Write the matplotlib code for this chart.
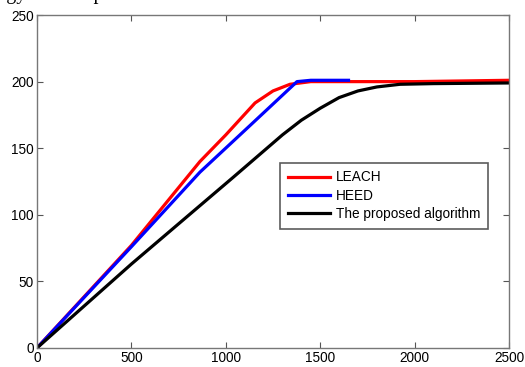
import numpy as np
import matplotlib
matplotlib.use('Agg')
import matplotlib.pyplot as plt

# values
leach_x = [0, 500, 863, 1000, 1155, 1250, 1340, 1450, 2000, 2500]
leach_y = [0, 77, 140, 160, 184, 193, 198, 200, 200, 201]

heed_x = [0, 500, 863, 1128, 1377, 1450, 1650]
heed_y = [0, 76, 132, 167, 200, 201, 201]

prop_x = [0, 500, 1038, 1300, 1400, 1500, 1600, 1700, 1800, 1923, 2100, 2500]
prop_y = [0, 63, 128, 160, 171, 180, 188, 193, 196, 198, 198.5, 199]

series_names = ['LEACH', 'HEED', 'The proposed algorithm']
x_ticks = [0, 500, 1000, 1500, 2000, 2500]
y_ticks = [0, 50, 100, 150, 200, 250]

plt.rcParams['font.family'] = ['Liberation Sans', 'DejaVu Sans']

fig = plt.figure(figsize=(5.25, 3.67), dpi=100)
ax = fig.add_axes([0.0705, 0.052, 0.899, 0.907])

ax.plot(leach_x, leach_y, color='red', lw=2.3, label=series_names[0])
ax.plot(heed_x, heed_y, color='blue', lw=2.3, label=series_names[1])
ax.plot(prop_x, prop_y, color='black', lw=2.3, label=series_names[2])

ax.set_xlim(0, 2500)
ax.set_ylim(0, 250)
ax.set_xticks(x_ticks)
ax.set_yticks(y_ticks)
ax.tick_params(direction='in', top=True, right=True, labelsize=9.8, length=4, color='#555555', pad=2.5)
for sp in ax.spines.values():
    sp.set_color('#777777')
    sp.set_linewidth(1.0)

leg = ax.legend(loc='upper left', bbox_to_anchor=(0.515, 0.556), fontsize=9.8,
                frameon=True, fancybox=False, handlelength=3.15, borderaxespad=0,
                borderpad=0.55, labelspacing=0.32, handletextpad=0.4)
leg.get_frame().set_edgecolor('#333333')
leg.get_frame().set_linewidth(1.2)

# cut-off caption from the page above
fig.text(-0.059, 1.003, 'Energy consumption', fontsize=14.4, family='Liberation Serif',
         va='baseline', ha='left')

fig.savefig('out.png', dpi=100)
